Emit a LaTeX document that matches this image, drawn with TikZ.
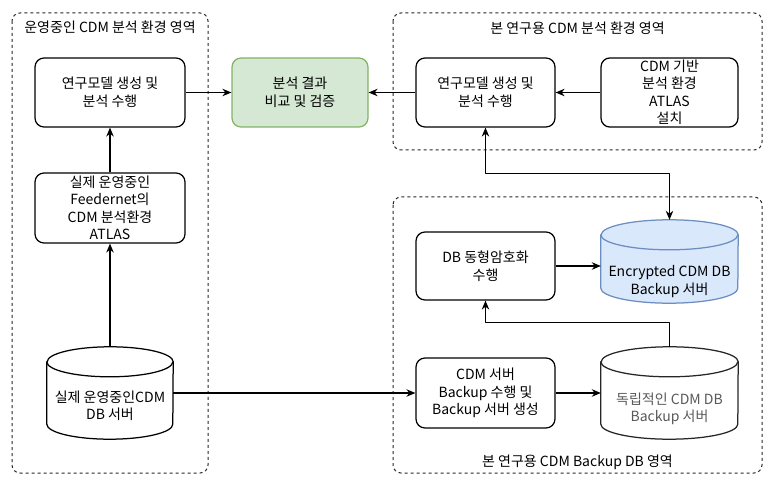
\documentclass[tikz,border=0pt]{standalone}
\usepackage{fontspec}
\setmainfont{Noto Sans CJK KR}
\usetikzlibrary{arrows.meta,calc,positioning}
\definecolor{cmpfill}{HTML}{D5E8D4}
\definecolor{cmpdraw}{HTML}{82B366}
\definecolor{encfill}{HTML}{DAE8FC}
\definecolor{encdraw}{HTML}{6C8EBF}
\begin{document}
\begin{tikzpicture}[x=1pt,y=-1pt,>={Stealth[length=9pt,width=7.5pt]}, line join=round,
	font=\fontsize{14}{17.5}\selectfont,
	zone/.style={draw=black!85, line width=1pt, dash pattern=on 3pt off 3pt, rounded corners=8pt},
	box/.style={draw, line width=1.25pt, rounded corners=9pt, align=center, inner sep=2pt},
	cylpos/.style={inner sep=0pt},
	cyltext/.style={align=center},
	link/.style={->, line width=1.25pt}]
	\useasboundingbox (0,0) rectangle (774,486);
	\def\ry{15} % tiefe der zylinderdeckel
	% bereiche
	\draw[zone] (12,13) rectangle (208,473);
	\draw[zone] (393,13) rectangle (762,150);
	\draw[zone] (393,197) rectangle (762,473);
	\node (zoneRun) at (110,27) {운영중인 CDM 분석 환경 영역};
	\node (zoneRes) at (577.5,28) {본 연구용 CDM 분석 환경 영역};
	\node (zoneBak) at (577.5,462) {본 연구용 CDM Backup DB 영역};
	% kaesten
	\node[box, minimum width=150, minimum height=69] (runM) at (110,92.5) {연구모델 생성 및\\분석 수행};
	\node[box, minimum width=150, minimum height=70] (runA) at (110,208) {실제 운영중인\\Feedernet의\\CDM 분석환경\\ATLAS};
	\node[box, minimum width=136, minimum height=69, fill=cmpfill, draw=cmpdraw] (cmp) at (300,92.5) {분석 결과\\비교 및 검증};
	\node[box, minimum width=139, minimum height=69] (resM) at (485.5,92.5) {연구모델 생성 및\\분석 수행};
	\node[box, minimum width=137, minimum height=69] (resA) at (669.5,92.5) {CDM 기반\\분석 환경\\ATLAS\\설치};
	\node[box, minimum width=139, minimum height=68] (encBox) at (485.5,266) {DB 동형암호화\\수행};
	\node[box, minimum width=139, minimum height=70] (bakBox) at (485.5,393) {CDM 서버\\Backup 수행 및\\Backup 서버 생성};
	% zylinder
	\node[cylpos, minimum width=126, minimum height=92] (runDB) at (110,393) {};
	\node[cylpos, minimum width=137, minimum height=83] (encDB) at (669.5,261.5) {};
	\node[cylpos, minimum width=137, minimum height=92] (bakDB) at (669.5,393) {};
	\foreach \n/\r/\s/\f/\d/\t/\txt in {runDB/63/13/white/black/black/{실제 운영중인CDM\\DB 서버},
		encDB/68.5/20/encfill/encdraw/black/{Encrypted CDM DB\\Backup 서버},
		bakDB/68.5/16/white/black!85/black!65/{독립적인 CDM DB\\Backup 서버}}{
		\draw[line width=1.25pt, fill=\f, draw=\d] ($(\n.north west)+(0,\ry)$) -- ($(\n.south west)+(0,-\ry)$)
			arc[start angle=180, end angle=360, x radius=\r pt, y radius=\ry pt]
			-- ($(\n.north east)+(0,\ry)$)
			arc[start angle=0, end angle=180, x radius=\r pt, y radius=\ry pt] -- cycle;
		\draw[line width=1.25pt, draw=\d] ($(\n.north west)+(0,\ry)$)
			arc[start angle=180, end angle=360, x radius=\r pt, y radius=\ry pt];
		\node[cyltext, text=\t] at ($(\n.center)+(0,\s)$) {\txt};
	}
	% verbindungen
	\draw[link] (runDB.north) -- (runA.south);
	\draw[link] (runA.north) -- (runM.south);
	\draw[link] (runM.east) -- (cmp.west);
	\draw[link] (resM.west) -- (cmp.east);
	\draw[link] (resA.west) -- (resM.east);
	\draw[link, <->] (resM.south) -- ++(0,46) -| (encDB.north);
	\draw[link] (bakDB.north) -- ++(0,-24) -| (encBox.south);
	\draw[link] (encBox.east) -- (encBox.east -| encDB.west);
	\draw[link] (runDB.east) -- (bakBox.west);
	\draw[link] (bakBox.east) -- (bakDB.west);
\end{tikzpicture}
\end{document}
